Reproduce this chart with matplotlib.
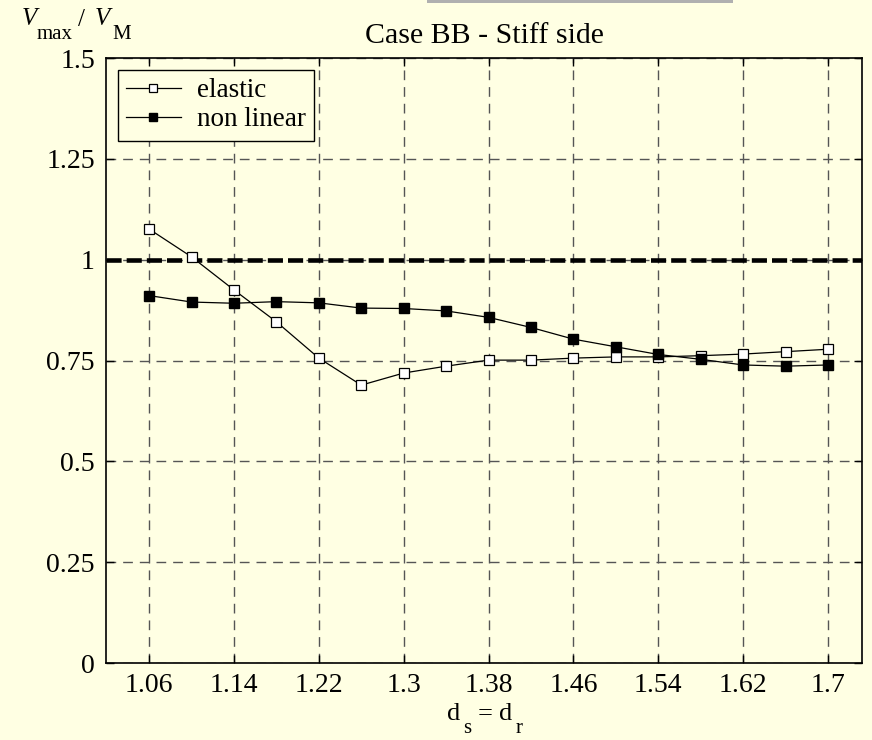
import numpy as np
import matplotlib.pyplot as plt
from matplotlib.patches import Rectangle

plt.rcParams['font.family'] = ['Liberation Serif', 'DejaVu Serif']

# data
ds = [1.06, 1.10, 1.14, 1.18, 1.22, 1.26, 1.30, 1.34, 1.38,
      1.42, 1.46, 1.50, 1.54, 1.58, 1.62, 1.66, 1.70]
elastic = [1.076, 1.007, 0.925, 0.846, 0.756, 0.689, 0.719, 0.736, 0.751,
           0.751, 0.756, 0.759, 0.759, 0.762, 0.766, 0.772, 0.778]
nonlinear = [0.911, 0.895, 0.892, 0.896, 0.893, 0.880, 0.879, 0.873, 0.857,
             0.832, 0.803, 0.784, 0.765, 0.753, 0.739, 0.736, 0.739]
xticks = [1.06, 1.14, 1.22, 1.30, 1.38, 1.46, 1.54, 1.62, 1.70]
xticklabels = ['1.06', '1.14', '1.22', '1.3', '1.38', '1.46', '1.54', '1.62', '1.7']
yticks = [0, 0.25, 0.5, 0.75, 1, 1.25, 1.5]
yticklabels = ['0', '0.25', '0.5', '0.75', '1', '1.25', '1.5']

W, H = 872, 740
bg = '#ffffe3'
fig = plt.figure(figsize=(W / 100, H / 100), dpi=100, facecolor=bg)
ax = fig.add_axes([0.1216, 0.104, 0.8669, 0.8176], facecolor=bg)

# gray strip at the top edge
fig.patches.append(Rectangle((427 / W, 1 - 3 / H), 306 / W, 3 / H,
                             transform=fig.transFigure, facecolor='#b0b0b0',
                             edgecolor='none'))

ax.grid(True, linestyle=(0, (7, 5)), color='#555555', linewidth=1.0)
ax.set_axisbelow(True)

ax.axhline(1, color='black', linewidth=3.3, linestyle=(0, (3.3, 1.1)), zorder=2)

ax.plot(ds, elastic, color='black', linewidth=0.9, marker='s', markersize=7.5,
        markerfacecolor='white', markeredgecolor='black', markeredgewidth=0.9,
        label='elastic', zorder=3)
ax.plot(ds, nonlinear, color='black', linewidth=0.9, marker='s', markersize=7.5,
        markerfacecolor='black', markeredgecolor='black',
        label='non linear', zorder=3)

ax.set_xlim(1.0194, 1.732)
ax.set_ylim(0, 1.5)
ax.set_xticks(xticks)
ax.set_xticklabels(xticklabels)
ax.set_yticks(yticks)
ax.set_yticklabels(yticklabels)
ax.tick_params(direction='in', top=True, right=True, length=6, width=1,
               labelsize=20)
ax.tick_params(axis='y', pad=8)
ax.tick_params(axis='x', pad=7)
for s in ax.spines.values():
    s.set_linewidth(1.2)

leg = ax.legend(loc='upper left', fontsize=19.5, frameon=True, fancybox=False,
                edgecolor='black', facecolor=bg, framealpha=1,
                handlelength=2.0, handletextpad=0.6, borderaxespad=0.45,
                borderpad=0.3, labelspacing=0.15, markerscale=0.8)
leg.get_frame().set_linewidth(1.0)

ax.set_title('Case BB - Stiff side', fontsize=21.5, pad=11)


def put(x, y, s, size, **kw):
    # x, y in pixels from the top-left corner, y is the baseline
    fig.text(x / W, 1 - y / H, s, fontsize=size, ha='left', va='baseline', **kw)


# y label: V_max / V_M, subscripts dropped low as in the original
put(22, 25, 'V', 18, style='italic')
put(37, 39, 'max', 15)
put(78, 26, '/', 18)
put(95, 25, 'V', 18, style='italic')
put(112, 39, 'M', 15)

# x label: d_s = d_r
put(447, 720, 'd', 19)
put(463, 733, 's', 15)
put(478, 720, '=', 19)
put(499, 720, 'd', 19)
put(516, 733, 'r', 15)

fig.savefig('out.png', dpi=100, facecolor=bg)
